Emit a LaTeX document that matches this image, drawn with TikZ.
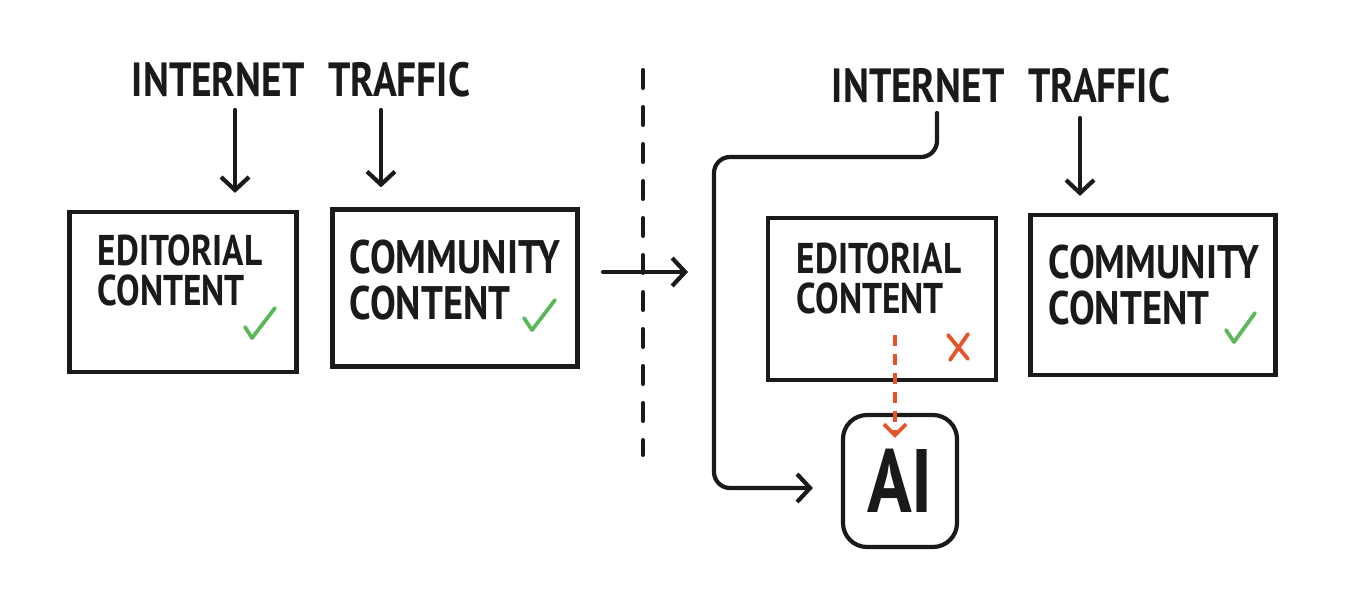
\documentclass[tikz,border=0pt]{standalone}
\usepackage{fontspec}
\newfontfamily\hand[FakeStretch=0.82]{PT Sans Bold}
\usetikzlibrary{arrows.meta}
\definecolor{ink}{HTML}{1A1A1A}
\definecolor{okgreen}{HTML}{5DB85A}
\definecolor{nored}{HTML}{E5532A}
\begin{document}
\begin{tikzpicture}[x=1pt,y=-1pt,
  box/.style={draw=ink,line width=4.2pt,inner sep=0pt},
  lbl/.style={text=ink,align=left,inner sep=0pt},
  hd/.style={text=ink,inner sep=0pt,font=\hand\fontsize{48}{48}\selectfont},
  arr/.style={draw=ink,line width=4.2pt,line cap=round,-{Straight Barb[length=13pt,width=28pt,line width=4.2pt]}},
  tick/.style={draw=okgreen,line width=3.8pt,line cap=round,line join=round},
  cross/.style={draw=nored,line width=3.8pt,line cap=round}]
\useasboundingbox[fill=white] (0,0) rectangle (1352,592);

% ---- left half ----
\node[hd] (lt) at (301,80) {INTERNET\hspace{24pt}TRAFFIC};
\node[box,minimum width=227pt,minimum height=160pt] (le) at (183,292) {};
\node[lbl,font=\hand\fontsize{43}{40}\selectfont] (let) at (180,270) {EDITORIAL\\CONTENT};
\node[box,minimum width=245pt,minimum height=157pt] (lc) at (455,288) {};
\node[lbl,font=\hand\fontsize{47}{46}\selectfont] (lct) at (455,280) {COMMUNITY\\CONTENT};
\coordinate (la1) at (235,110);
\coordinate (la2) at (381,110);
\draw[arr,shorten >=17pt] (la1) -- (la1 |- le.north);
\draw[arr,shorten >=20pt] (la2) -- (la2 |- lc.north);
\draw[tick] (245,327) -- (252,338) -- (275,308);
\draw[tick] (524,318) -- (532,330) -- (555,300);

% ---- divider and transition arrow ----
\coordinate (d1) at (643,70);
\coordinate (d2) at (643,455);
\draw[ink,line width=4pt,line cap=round,dash pattern=on 18pt off 19pt] (d1) -- (d2);
\coordinate (m1) at (603,272);
\coordinate (m2) at (688,272);
\draw[arr] (m1) -- (m2);

% ---- right half ----
\node[hd] (rt) at (1001,86) {INTERNET\hspace{24pt}TRAFFIC};
\node[box,minimum width=228pt,minimum height=162pt] (re) at (882,299) {};
\node[lbl,font=\hand\fontsize{43}{40}\selectfont] (ret) at (879,278) {EDITORIAL\\CONTENT};
\node[box,minimum width=245pt,minimum height=160pt] (rc) at (1153,295) {};
\node[lbl,font=\hand\fontsize{47}{46}\selectfont] (rct) at (1154,285) {COMMUNITY\\CONTENT};
\node[box,rounded corners=24pt,minimum width=114pt,minimum height=132pt,
      font=\hand\fontsize{90}{90}\selectfont,text=ink] (ai) at (900,481) {AI};
\coordinate (ra) at (1080,118);
\draw[arr,shorten >=17pt] (ra) -- (ra |- rc.north);
\draw[tick] (1226,330) -- (1234,342) -- (1255,313);
\draw[cross] (948,335) -- (968,359);
\draw[cross] (968,334) -- (950,360);

\coordinate (e0) at (937,113);
\coordinate (e1) at (937,157);
\coordinate (e2) at (714,157);
\coordinate (e3) at (714,488);
\draw[arr,rounded corners=16pt,shorten >=28pt] (e0) -- (e1) -- (e2) -- (e3) -- (e3 -| ai.west);

\coordinate (r1) at (895,335);
\draw[draw=nored,line width=3.8pt,dash pattern=on 11pt off 8pt,
      -{Straight Barb[length=11pt,width=22pt,line width=3.8pt]}]
      (r1) -- ([yshift=-25pt]r1 |- ai.north);
\end{tikzpicture}
\end{document}
